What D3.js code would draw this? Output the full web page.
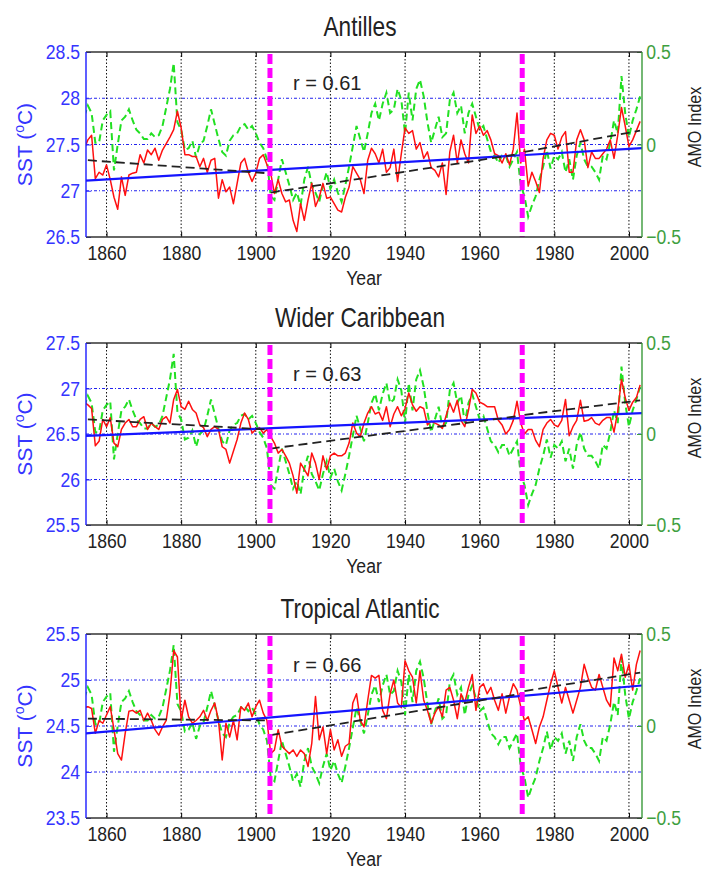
<!DOCTYPE html>
<html>
<head>
<meta charset="utf-8">
<script src="https://cdn.jsdelivr.net/npm/d3@7"></script>
<style>
  body { margin: 0; background: #fff; }
  text { font-family: "Liberation Sans", Arial, Helvetica, sans-serif; }
</style>
</head>
<body>
<svg id="chart" width="705" height="870"></svg>
<script>
// ---- data ----
const years = d3.range(1854, 2004)

// AMO index, same series in all three panels
const amo = [
  0.15, 0.21, 0.17, 0.01, 0.01, 0.13, 0.16, 0.18, -0.14, 0.00,
  0.13, 0.15, 0.19, 0.13, 0.08, 0.06, 0.03, 0.03, 0.06, 0.04,
  0.05, 0.10, 0.20, 0.30, 0.44, 0.12, 0.08, -0.03, -0.02, 0.02,
  -0.07, 0.00, 0.02, 0.10, 0.19, 0.11, 0.03, -0.04, -0.06, 0.02,
  0.05, 0.06, 0.10, 0.11, 0.08, 0.10, 0.06, 0.01, -0.02, -0.08,
  -0.28, -0.30, -0.19, -0.08, -0.15, -0.22, -0.30, -0.26, -0.33, -0.19,
  -0.12, -0.22, -0.26, -0.31, -0.22, -0.15, -0.24, -0.19, -0.26, -0.31,
  -0.22, -0.12, -0.01, 0.10, 0.03, -0.04, 0.06, 0.17, 0.22, 0.13,
  0.22, 0.28, 0.17, 0.19, 0.30, 0.24, 0.06, 0.28, 0.13, 0.30,
  0.35, 0.26, 0.12, 0.01, 0.08, 0.15, 0.04, 0.06, 0.24, 0.28,
  0.17, 0.21, 0.06, 0.17, 0.22, 0.15, 0.08, 0.10, 0.03, -0.04,
  -0.06, -0.10, -0.06, -0.06, -0.12, -0.08, -0.04, -0.22, -0.28, -0.39,
  -0.33, -0.28, -0.19, -0.12, -0.03, -0.13, -0.06, -0.08, -0.04, -0.15,
  -0.08, -0.19, -0.06, 0.01, -0.08, -0.12, -0.12, -0.15, -0.19, -0.06,
  -0.08, 0.01, 0.13, 0.06, 0.37, 0.17, 0.04, 0.13, 0.19, 0.26
]

const sstAntilles = [
  27.45, 27.55, 27.60, 27.13, 27.20, 27.17, 27.28, 27.12, 26.93, 26.80,
  27.15, 26.95, 27.17, 27.19, 27.20, 27.39, 27.30, 27.44, 27.39, 27.46,
  27.33, 27.44, 27.51, 27.58, 27.66, 27.86, 27.68, 27.39, 27.39, 27.37,
  27.37, 27.26, 27.35, 27.20, 27.33, 27.35, 26.92, 27.12, 26.99, 27.04,
  26.86, 27.08, 27.30, 27.35, 27.20, 27.10, 27.19, 27.35, 27.39, 27.28,
  27.19, 26.97, 27.12, 26.97, 26.88, 26.90, 26.68, 26.56, 26.86, 26.68,
  26.90, 27.08, 26.83, 26.93, 27.08, 26.92, 26.93, 26.86, 26.79, 26.77,
  26.93, 27.04, 27.26, 27.19, 27.12, 26.97, 27.33, 27.46, 27.40, 27.30,
  27.45, 27.20, 27.25, 27.45, 27.10, 27.40, 27.68, 27.62, 27.65, 27.45,
  27.52, 27.35, 27.42, 27.25, 27.22, 27.15, 27.30, 26.96, 27.42, 27.60,
  27.30, 27.55, 27.40, 27.30, 27.82, 27.62, 27.70, 27.60, 27.65, 27.55,
  27.40, 27.38, 27.30, 27.40, 27.28, 27.45, 27.84, 27.30, 27.45, 27.05,
  27.20, 27.10, 26.98, 27.35, 27.55, 27.62, 27.60, 27.45, 27.58, 27.64,
  27.20, 27.20, 27.55, 27.66, 27.55, 27.25, 27.42, 27.35, 27.35, 27.40,
  27.45, 27.55, 27.35, 27.60, 27.90, 27.70, 27.48, 27.55, 27.65, 27.75
]

const sstCaribbean = [
  26.85, 26.82, 26.78, 26.37, 26.42, 26.66, 26.58, 26.68, 26.40, 26.36,
  26.55, 26.62, 26.66, 26.58, 26.58, 26.66, 26.69, 26.55, 26.62, 26.58,
  26.55, 26.66, 26.69, 26.62, 26.88, 26.99, 26.80, 26.77, 26.86, 26.77,
  26.73, 26.60, 26.57, 26.47, 26.55, 26.58, 26.55, 26.36, 26.33, 26.18,
  26.31, 26.44, 26.62, 26.73, 26.66, 26.51, 26.55, 26.57, 26.51, 26.55,
  26.47, 26.40, 26.29, 26.33, 26.26, 26.18, 26.04, 25.85, 26.18, 26.11,
  26.04, 26.29, 26.18, 26.00, 26.26, 26.11, 26.26, 26.29, 26.26, 26.26,
  26.29, 26.40, 26.62, 26.51, 26.47, 26.62, 26.73, 26.80, 26.72, 26.74,
  26.65, 26.80, 26.58, 26.72, 26.80, 26.70, 26.78, 26.95, 26.82, 26.75,
  26.80, 26.78, 26.60, 26.64, 26.62, 26.60, 26.56, 26.70, 26.84, 26.74,
  26.87, 26.65, 26.58, 26.76, 26.99, 26.95, 26.85, 26.83, 26.80, 26.80,
  26.80, 26.65, 26.60, 26.50, 26.55, 26.65, 26.86, 26.62, 26.50, 26.55,
  26.55, 26.43, 26.36, 26.55, 26.62, 26.66, 26.60, 26.58, 26.65, 26.88,
  26.48, 26.58, 26.65, 26.87, 26.64, 26.65, 26.68, 26.62, 26.60, 26.65,
  26.68, 26.68, 26.52, 26.75, 27.10, 26.90, 26.76, 26.85, 26.90, 27.04
]

const sstTropical = [
  24.70, 24.71, 24.69, 24.42, 24.56, 24.53, 24.62, 24.71, 24.46, 24.20,
  24.13, 24.42, 24.66, 24.67, 24.64, 24.67, 24.56, 24.64, 24.56, 24.46,
  24.40, 24.49, 24.56, 24.85, 25.32, 25.25, 24.56, 24.78, 24.60, 24.53,
  24.56, 24.60, 24.67, 24.56, 24.67, 24.75, 24.56, 24.13, 24.53, 24.38,
  24.56, 24.35, 24.71, 24.67, 24.75, 24.60, 24.71, 24.78, 24.64, 24.56,
  24.20, 24.24, 24.46, 24.28, 24.24, 24.20, 24.24, 24.17, 24.24, 24.20,
  24.06, 24.31, 24.82, 24.35, 24.49, 24.20, 24.46, 24.24, 24.35, 24.17,
  24.28, 24.31, 24.75, 24.85, 24.56, 24.49, 24.78, 25.05, 25.02, 25.05,
  24.67, 24.58, 24.85, 25.00, 24.75, 24.70, 25.21, 25.10, 25.03, 24.75,
  25.10, 24.78, 24.67, 24.53, 24.64, 24.71, 24.60, 24.89, 24.92, 24.78,
  24.58, 24.85, 24.75, 24.92, 25.06, 24.67, 24.92, 24.96, 24.85, 24.92,
  24.78, 24.67, 24.85, 24.64, 24.82, 24.96, 24.89, 24.71, 24.56, 24.60,
  24.46, 24.31, 24.49, 24.60, 24.78, 24.96, 25.10, 24.92, 24.75, 24.92,
  24.78, 24.64, 24.78, 24.92, 25.17, 25.03, 24.92, 24.89, 25.06, 24.92,
  24.78, 24.71, 25.24, 25.10, 25.28, 25.03, 25.17, 24.89, 25.17, 25.32
]

const titles = ['Antilles', 'Wider Caribbean', 'Tropical Atlantic']
const rLabels = ['r = 0.61', 'r = 0.63', 'r = 0.66']
const sstTicks = [
  [26.5, 27, 27.5, 28, 28.5],
  [25.5, 26, 26.5, 27, 27.5],
  [23.5, 24, 24.5, 25, 25.5]
]
const amoTicks = [-0.5, 0, 0.5]
const yearTicks = [1860, 1880, 1900, 1920, 1940, 1960, 1980, 2000]
const breakYears = [1903.8, 1971.4]

// linear fit: SST at the left and right end of the year axis
const linearFit = [[27.11, 27.46], [26.48, 26.73], [24.42, 24.94]]
// piecewise fits: [startYear, startSST, endYear, endSST]
const pieceFit = [
  [[1855, 27.33, 1903, 27.19], [1904, 26.98, 1971, 27.40], [1972, 27.42, 2003, 27.65]],
  [[1855, 26.66, 1903, 26.55], [1904, 26.34, 1971, 26.70], [1972, 26.71, 2003, 26.87]],
  [[1855, 24.58, 1903, 24.56], [1904, 24.40, 1971, 24.85], [1972, 24.88, 2003, 25.08]]
]
const sstSeries = [sstAntilles, sstCaribbean, sstTropical]

// ---- layout ----
const plotLeft = 86
const plotWidth = 556
const panelTops = [52, 343, 634]
const panelHeights = [185, 182, 184]
const xDomain = [1854.5, 2003.5]

const sstColor = '#3535ff'
const amoColor = '#3f9f3f'
const squeeze = 0.84 // matlab helvetica looks narrow

const svg = d3.select('#chart')
svg.append('rect').attr('width', 705).attr('height', 870).attr('fill', '#fff')

function squeezeText (sel) {
  sel.attr('transform', `scale(${squeeze},1)`)
}

function drawPanel (i) {
  const h = panelHeights[i]
  const g = svg.append('g').attr('transform', `translate(${plotLeft},${panelTops[i]})`)

  const x = d3.scaleLinear().domain(xDomain).range([0, plotWidth])
  const y = d3.scaleLinear().domain([sstTicks[i][0], sstTicks[i][4]]).range([h, 0])
  const yAmo = d3.scaleLinear().domain([-0.5, 0.5]).range([h, 0])

  g.append('clipPath').attr('id', 'clip' + i)
    .append('rect').attr('width', plotWidth).attr('height', h)

  // grid
  g.selectAll('.vgrid').data(yearTicks).enter().append('line')
    .attr('x1', d => x(d)).attr('x2', d => x(d))
    .attr('y1', 0).attr('y2', h)
    .attr('stroke', '#111').attr('stroke-width', 1)
    .attr('stroke-dasharray', '1.5,2')

  g.selectAll('.hgrid').data(sstTicks[i].slice(1, 4)).enter().append('line')
    .attr('x1', 0).attr('x2', plotWidth)
    .attr('y1', d => y(d)).attr('y2', d => y(d))
    .attr('stroke', '#2222ee').attr('stroke-width', 1)
    .attr('stroke-dasharray', '3,2,1,2')

  const plot = g.append('g').attr('clip-path', `url(#clip${i})`)

  // AMO index (green dashed)
  const amoLine = d3.line().x((d, j) => x(years[j])).y(d => yAmo(d))
  plot.append('path').datum(amo)
    .attr('d', amoLine)
    .attr('fill', 'none')
    .attr('stroke', '#22e022')
    .attr('stroke-width', 2)
    .attr('stroke-dasharray', '7,4')

  // SST (red)
  const sstLine = d3.line().x((d, j) => x(years[j])).y(d => y(d))
  plot.append('path').datum(sstSeries[i])
    .attr('d', sstLine)
    .attr('fill', 'none')
    .attr('stroke', '#ff1010')
    .attr('stroke-width', 1.5)
    .attr('stroke-linejoin', 'round')

  // linear trend (blue)
  plot.append('path')
    .attr('d', d3.line()([[x(xDomain[0]), y(linearFit[i][0])], [x(xDomain[1]), y(linearFit[i][1])]]))
    .attr('stroke', '#1515ff')
    .attr('stroke-width', 2.2)

  // piecewise trend (black dashed)
  plot.selectAll('.seg').data(pieceFit[i]).enter().append('path')
    .attr('d', s => d3.line()([[x(s[0]), y(s[1])], [x(s[2]), y(s[3])]]))
    .attr('stroke', '#222')
    .attr('stroke-width', 1.8)
    .attr('stroke-dasharray', '9,5')

  // regime breaks (magenta)
  g.selectAll('.brk').data(breakYears).enter().append('line')
    .attr('x1', d => x(d)).attr('x2', d => x(d))
    .attr('y1', 2).attr('y2', h)
    .attr('stroke', '#ff00ff')
    .attr('stroke-width', 5)
    .attr('stroke-dasharray', '10,4')

  // axes
  const xAxis = g.append('g').attr('transform', `translate(0,${h})`)
    .call(d3.axisBottom(x).tickValues(yearTicks).tickFormat(d3.format('d')).tickSize(-5).tickPadding(8))
  xAxis.selectAll('text').attr('font-size', 21).attr('fill', '#222').call(squeezeText)

  g.append('g')
    .call(d3.axisTop(x).tickValues(yearTicks).tickFormat('').tickSize(-5))

  const yAxis = g.append('g')
    .call(d3.axisLeft(y).tickValues(sstTicks[i]).tickFormat(d3.format('')).tickSize(-5).tickPadding(7))
  yAxis.selectAll('line').attr('stroke', sstColor)
  yAxis.selectAll('text').attr('font-size', 21).attr('fill', sstColor).call(squeezeText)

  const rAxis = g.append('g').attr('transform', `translate(${plotWidth},0)`)
    .call(d3.axisRight(yAmo).tickValues(amoTicks).tickFormat(d3.format('')).tickSize(-5).tickPadding(5))
  rAxis.selectAll('line').attr('stroke', amoColor)
  rAxis.selectAll('text').attr('font-size', 21).attr('fill', amoColor).call(squeezeText)

  g.selectAll('.domain').remove()

  // box
  g.append('line').attr('x1', 0).attr('x2', plotWidth).attr('y1', 0).attr('y2', 0)
    .attr('stroke', '#333').attr('stroke-width', 1.6)
  g.append('line').attr('x1', 0).attr('x2', plotWidth).attr('y1', h).attr('y2', h)
    .attr('stroke', '#333').attr('stroke-width', 1.6)
  g.append('line').attr('x1', 0).attr('x2', 0).attr('y1', 0).attr('y2', h)
    .attr('stroke', '#1a1aff').attr('stroke-width', 1.4)
  g.append('line').attr('x1', plotWidth).attr('x2', plotWidth).attr('y1', 0).attr('y2', h)
    .attr('stroke', '#3a9a3a').attr('stroke-width', 1.4)

  // labels
  g.append('text')
    .attr('transform', `translate(${360 - plotLeft},-16) scale(${squeeze},1)`)
    .attr('text-anchor', 'middle')
    .attr('font-size', 27)
    .attr('fill', '#222')
    .text(titles[i])

  g.append('text')
    .attr('x', 293 - plotLeft).attr('y', 38)
    .attr('font-size', 20)
    .attr('fill', '#222')
    .text(rLabels[i])

  g.append('text')
    .attr('transform', `translate(${364 - plotLeft},${h + 48}) scale(${squeeze},1)`)
    .attr('text-anchor', 'middle')
    .attr('font-size', 21)
    .attr('fill', '#222')
    .text('Year')

  const sstLabel = g.append('text')
    .attr('transform', `translate(${25 - plotLeft + 7},${h / 2}) rotate(-90)`)
    .attr('text-anchor', 'middle')
    .attr('font-size', 21)
    .attr('fill', sstColor)
  sstLabel.append('tspan').text('SST (')
  sstLabel.append('tspan').attr('font-size', 14).attr('dy', -8).text('o')
  sstLabel.append('tspan').attr('dy', 8).text('C)')

  g.append('text')
    .attr('transform', `translate(${701 - plotLeft},${75}) rotate(-90) scale(0.85,1)`)
    .attr('text-anchor', 'middle')
    .attr('font-size', 19)
    .attr('fill', '#222')
    .text('AMO Index')
}

for (let i = 0; i < 3; i++) {
  drawPanel(i)
}
</script>
</body>
</html>
